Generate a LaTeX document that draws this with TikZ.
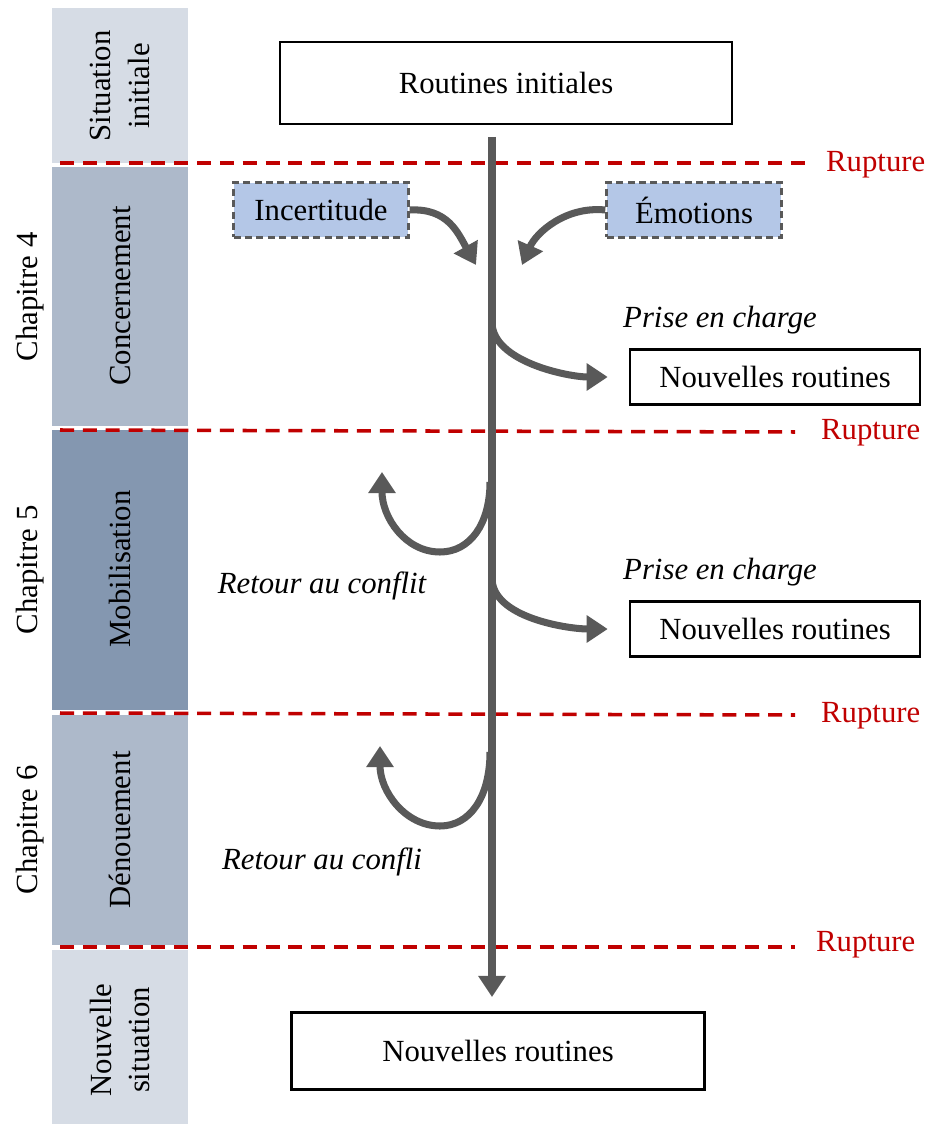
\documentclass[tikz,border=0pt]{standalone}
\usepackage{fontspec}
\setmainfont{Liberation Serif}
\usetikzlibrary{arrows.meta}

\definecolor{bandlight}{HTML}{D6DCE5}
\definecolor{bandmid}{HTML}{ADB9CA}
\definecolor{banddark}{HTML}{8497B0}
\definecolor{boxblue}{HTML}{B4C7E7}
\definecolor{flowgray}{HTML}{595959}
\definecolor{ruptred}{HTML}{C00000}

\tikzset{
  txt/.style={font=\fontsize{17.5}{22}\selectfont},
  routine/.style={txt, draw, line width=1.4pt, inner sep=0pt},
  facteur/.style={txt, draw=flowgray, line width=1.4pt, dash pattern=on 4pt off 2.5pt,
    fill=boxblue, minimum width=3.5cm, minimum height=1.1cm, inner sep=0pt},
  flow/.style={draw=flowgray, line width=4pt,
    -{Triangle[width=15pt,length=12pt]}},
  rupt/.style={draw=ruptred, line width=2pt, dash pattern=on 8pt off 5pt},
  rlabel/.style={txt, text=ruptred, anchor=west},
  phase/.style={txt, rotate=90, align=center},
  remark/.style={font=\fontsize{17.5}{22}\selectfont\itshape},
}

\begin{document}
\begin{tikzpicture}[x=0.02cm, y=-0.02cm]
\useasboundingbox (0,0) rectangle (935,1124);

% Phases
\fill[bandlight] (52,8) rectangle (188,163);
\fill[bandmid] (52,167) rectangle (188,426);
\fill[banddark] (52,430) rectangle (188,710);
\fill[bandmid] (52,715) rectangle (188,945);
\fill[bandlight] (52,950) rectangle (188,1124);

\node[phase] (sit) at (120,86) {Situation\\initiale};
\node[phase] (conc) at (120,296) {Concernement};
\node[phase] (mob) at (120,569) {Mobilisation};
\node[phase] (denou) at (120,830) {Dénouement};
\node[phase] (nsit) at (120,1040) {Nouvelle\\situation};

\node[phase] (ch4) at (30,297) {Chapitre 4};
\node[phase] (ch5) at (30,570) {Chapitre 5};
\node[phase] (ch6) at (30,830) {Chapitre 6};

% Ruptures
\node[rlabel] (rup1) at (820,165) {Rupture};
\node[rlabel] (rup2) at (815,433) {Rupture};
\node[rlabel] (rup3) at (815,716) {Rupture};
\node[rlabel] (rup4) at (810,945) {Rupture};
\draw[rupt] (60,163) -- (805,163);
\draw[rupt] (60,430) -- (795,432);
\draw[rupt] (60,713) -- (795,715);
\draw[rupt] (60,947) -- (795,947);

% Routines
\node[routine, minimum width=9.04cm, minimum height=1.64cm] (rinit) at (506,83) {Routines initiales};
\node[routine, minimum width=5.8cm, minimum height=1.1cm] (nr1) at (775,377) {Nouvelles routines};
\node[routine, minimum width=5.8cm, minimum height=1.1cm] (nr2) at (775,629) {Nouvelles routines};
\node[routine, minimum width=8.26cm, minimum height=1.54cm] (nfin) at (498,1051) {Nouvelles routines};

\node[facteur] (inc) at (321,210) {Incertitude};
\node[facteur] (emo) at (694,210) {Émotions};

\node[remark] (pec1) at (720,320) {Prise en charge};
\node[remark] (pec2) at (720,572) {Prise en charge};
\node[remark] (rac1) at (322,586) {Retour au conflit};
\node[remark] (rac2) at (322,862) {Retour au confli};

% Trunk
\coordinate (top) at (492,137);
\coordinate (bot) at (492,997);
\draw[flow] (top) -- (bot);

% Incoming
\coordinate (incend) at (476,265);
\coordinate (emoend) at (522,265);
\draw[flow] (inc.east) .. controls +(38,-2) and +(-18,-32) .. (incend);
\draw[flow] (emo.west) .. controls +(-40,-4) and +(14,-32) .. (emoend);

% Branches
\coordinate (b1) at (492,322);
\coordinate (b2) at (492,578);
\draw[flow, shorten >=12pt] (b1) .. controls +(0,40) and +(-60,0) .. (nr1.west);
\draw[flow, shorten >=12pt] (b2) .. controls +(0,40) and +(-60,0) .. (nr2.west);

% Loops
\coordinate (l1) at (490,482);
\coordinate (l1end) at (382,472);
\coordinate (l2) at (490,752);
\coordinate (l2end) at (380,746);
\draw[flow] (l1) .. controls +(0,42) and +(30,0) .. (440,552) .. controls +(-35,0) and +(0,45) .. (l1end);
\draw[flow] (l2) .. controls +(0,45) and +(30,0) .. (440,826) .. controls +(-35,0) and +(0,45) .. (l2end);
\end{tikzpicture}
\end{document}
